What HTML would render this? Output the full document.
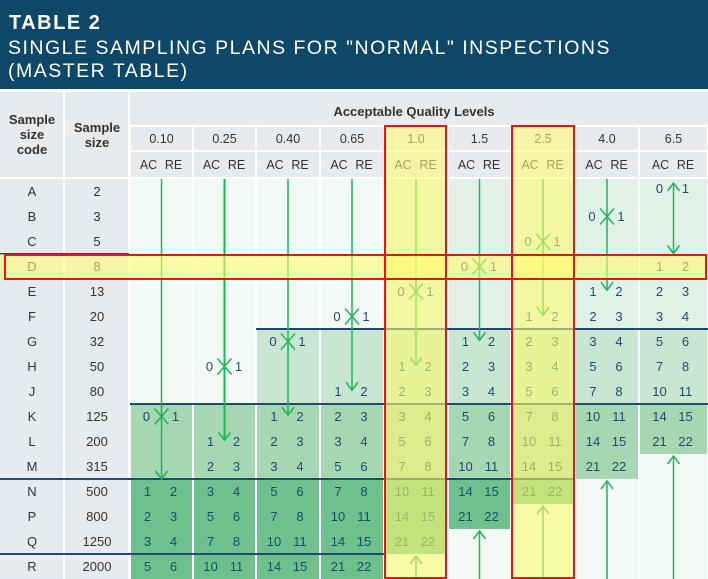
<!DOCTYPE html>
<html><head><meta charset="utf-8"><style>
html,body{margin:0;padding:0;background:#fff;}
svg{display:block;font-family:"Liberation Sans",sans-serif;}
</style></head><body>
<svg id="tbl" width="708" height="579" viewBox="0 0 708 579" xmlns="http://www.w3.org/2000/svg">
<rect x="0" y="0" width="708" height="89" fill="#0d4868"/>
<text x="9" y="29" fill="#fff" font-size="20" font-weight="bold" letter-spacing="1.5">TABLE 2</text>
<text x="8" y="54" fill="#fff" font-size="19.5" letter-spacing="1.5">SINGLE SAMPLING PLANS FOR "NORMAL" INSPECTIONS</text>
<text x="8" y="77" fill="#fff" font-size="19.5" letter-spacing="1.5">(MASTER TABLE)</text>
<g id="g"></g>
</svg>
<script>
const codes=['A','B','C','D','E','F','G','H','J','K','L','M','N','P','Q','R'];
const sizes=['2','3','5','8','13','20','32','50','80','125','200','315','500','800','1250','2000'];
const aql=['0.10','0.25','0.40','0.65','1.0','1.5','2.5','4.0','6.5'];
const ac010=[null,null,null,null,null,null,null,null,null,null,null,null,1,2,3,5];
const re010=[null,null,null,null,null,null,null,null,null,null,null,null,2,3,4,6];
const ac025=[null,null,null,null,null,null,null,null,null,null,1,2,3,5,7,10];
const re025=[null,null,null,null,null,null,null,null,null,null,2,3,4,6,8,11];
const ac040=[null,null,null,null,null,null,null,null,null,1,2,3,5,7,10,14];
const re040=[null,null,null,null,null,null,null,null,null,2,3,4,6,8,11,15];
const ac065=[null,null,null,null,null,null,null,null,1,2,3,5,7,10,14,21];
const re065=[null,null,null,null,null,null,null,null,2,3,4,6,8,11,15,22];
const ac10=[null,null,null,null,null,null,null,1,2,3,5,7,10,14,21,null];
const re10=[null,null,null,null,null,null,null,2,3,4,6,8,11,15,22,null];
const ac15=[null,null,null,null,null,null,1,2,3,5,7,10,14,21,null,null];
const re15=[null,null,null,null,null,null,2,3,4,6,8,11,15,22,null,null];
const ac25=[null,null,null,null,null,1,2,3,5,7,10,14,21,null,null,null];
const re25=[null,null,null,null,null,2,3,4,6,8,11,15,22,null,null,null];
const ac40=[null,null,null,null,1,2,3,5,7,10,14,21,null,null,null,null];
const re40=[null,null,null,null,2,3,4,6,8,11,15,22,null,null,null,null];
const ac65=[0,null,null,1,2,3,5,7,10,14,21,null,null,null,null,null];
const re65=[1,null,null,2,3,4,6,8,11,15,22,null,null,null,null,null];
const acCols=[ac010,ac025,ac040,ac065,ac10,ac15,ac25,ac40,ac65];
const reCols=[re010,re025,re040,re065,re10,re15,re25,re40,re65];
const crossRow=[9,7,6,5,4,3,2,1,null];
const downEnd=[12,10.45,9.45,8.45,7.45,6.45,5.45,4.45,2.98];
const upFrom=[null,null,null,null,15,14,13,12,11];

const NS='http://www.w3.org/2000/svg';
const g=document.getElementById('g');
function mk(tag,at,parent){const e=document.createElementNS(NS,tag);for(const k in at)e.setAttribute(k,at[k]);(parent||g).appendChild(e);return e;}
const colX=[130,193,256,320,384,448,511,575,639,708];
const top0=179,rh=25;
const rowY=i=>top0+i*rh;
const band=i=>i<6?0:i<9?1:i<12?2:3;
const bandCol=['#e2f1e7','#c8e6d1','#a6d7b3','#6ec08c'];
const bandMinCol=[4,2,0,0];
const txt='#1d4d6a';

let e;
e=mk('rect',{x:0,y:92,width:63,height:85,fill:'#e8ebee'});


e=mk('rect',{x:65,y:92,width:63,height:85,fill:'#e8ebee'});


e=mk('rect',{x:130,y:92,width:578,height:33,fill:'#e8ebee'});


[['Sample',124],['size',139],['code',154]].forEach(([t,y])=>{e=mk('text',{x:32,y:y,'font-size':13,'font-weight':'bold',fill:'#333','text-anchor':'middle'});e.textContent=t;

});
[['Sample',132],['size',147]].forEach(([t,y])=>{e=mk('text',{x:97,y:y,'font-size':13,'font-weight':'bold',fill:'#333','text-anchor':'middle'});e.textContent=t;

});
e=mk('text',{x:414,y:116,'font-size':13,'font-weight':'bold',fill:'#333','text-anchor':'middle'});e.textContent='Acceptable Quality Levels';



e=mk('rect',{x:0,y:179,width:63,height:400,fill:'#e8ebee'});


e=mk('rect',{x:65,y:179,width:63,height:400,fill:'#e8ebee'});


codes.forEach((c,i)=>{
  e=mk('text',{x:32,y:rowY(i)+17,'font-size':13,fill:'#333','text-anchor':'middle'});e.textContent=c;
  
  
  e=mk('text',{x:97,y:rowY(i)+17,'font-size':13,fill:'#333','text-anchor':'middle'});e.textContent=sizes[i];
  
  
});

aql.forEach((a,k)=>{
  const x0=colX[k]+1,x1=colX[k+1]-1,w=x1-x0,cx=(colX[k]+colX[k+1])/2;
  e=mk('rect',{x:x0,y:127,width:w,height:23,fill:'#e8ebee'});
  
  
  e=mk('text',{x:cx,y:143,'font-size':12.5,fill:'#333','text-anchor':'middle'});e.textContent=a;
  
  
  e=mk('rect',{x:x0,y:152,width:w,height:25,fill:'#e8ebee'});
  
  
  e=mk('text',{x:cx-13,y:169,'font-size':12.5,fill:'#333','text-anchor':'middle'});e.textContent='AC';
  
  
  e=mk('text',{x:cx+12,y:169,'font-size':12.5,fill:'#333','text-anchor':'middle'});e.textContent='RE';
  
  
  codes.forEach((c,i)=>{
    const b=band(i);
    const blankAfter=upFrom[k]!==null&&i>=upFrom[k];
    const shaded=k>=bandMinCol[b]&&!blankAfter;
    e=mk('rect',{x:x0,y:rowY(i),width:w,height:rh,fill:shaded?bandCol[b]:'#f3f9f5'});
    
    
  });
});
[[0,129,rowY(3)],[256,708,rowY(6)],[130,708,rowY(9)],[0,574,rowY(12)],[0,384,rowY(15)]].forEach(([a,b,y])=>{
  e=mk('line',{x1:a,x2:b,y1:y,y2:y,stroke:'#1f4d6b','stroke-width':2});
  
  
});
aql.forEach((a,k)=>{
  const cx=(colX[k]+colX[k+1])/2;
  const ac=acCols[k],re=reCols[k];
  const gc='#22b35e';
  const yEnd=top0+downEnd[k]*rh;
  const yStart=k===8?rowY(0)+4:top0;
  e=mk('line',{x1:cx,x2:cx,y1:yStart,y2:yEnd,stroke:gc,'stroke-width':k===1?2:1.5});
  
  
  e=mk('polyline',{points:`${cx-6},${yEnd-8} ${cx},${yEnd} ${cx+6},${yEnd-8}`,fill:'none',stroke:gc,'stroke-width':1.5});
  
  
  if(k===8){
    e=mk('polyline',{points:`${cx-6},${yStart+8} ${cx},${yStart} ${cx+6},${yStart+8}`,fill:'none',stroke:gc,'stroke-width':1.5});
    
    
  }
  if(crossRow[k]!==null){
    const cy=rowY(crossRow[k])+12.5;
    e=mk('path',{d:`M${cx-7},${cy-8}L${cx+7},${cy+8}M${cx+7},${cy-8}L${cx-7},${cy+8}`,stroke:gc,'stroke-width':1.5,fill:'none'});
    
    
    e=mk('text',{x:cx-15,y:cy+4.5,'font-size':13,fill:txt,'text-anchor':'middle'});e.textContent='0';
    
    
    e=mk('text',{x:cx+14,y:cy+4.5,'font-size':13,fill:txt,'text-anchor':'middle'});e.textContent='1';
    
    
  }
  if(upFrom[k]!==null){
    const yt=rowY(upFrom[k])+2;
    e=mk('line',{x1:cx,x2:cx,y1:579,y2:yt,stroke:gc,'stroke-width':1.5});
    
    
    e=mk('polyline',{points:`${cx-6},${yt+8} ${cx},${yt} ${cx+6},${yt+8}`,fill:'none',stroke:gc,'stroke-width':1.5});
    
    
  }
  codes.forEach((c,i)=>{
    if(ac[i]===null)return;
    const y=rowY(i)+17-(k===8&&i===0?3:0);
    e=mk('text',{x:cx-14,y:y,'font-size':13,fill:txt,'text-anchor':'middle'});e.textContent=ac[i];
    
    
    e=mk('text',{x:cx+12,y:y,'font-size':13,fill:txt,'text-anchor':'middle'});e.textContent=re[i];
    
    
  });
});
const yl='rgba(255,252,110,0.58)';
e=mk('rect',{x:384,y:125,width:63,height:454,fill:yl});


e=mk('rect',{x:511,y:125,width:64,height:454,fill:yl});


e=mk('rect',{x:0,y:254,width:708,height:25,fill:yl});


[[385,126,61,452],[512,126,62,452],[5,255,701,24]].forEach(([x,y,w,h])=>{
  e=mk('rect',{x:x,y:y,width:w,height:h,fill:'none',stroke:'#e8141c','stroke-width':2});
  
  
});
</script>
</body></html>
